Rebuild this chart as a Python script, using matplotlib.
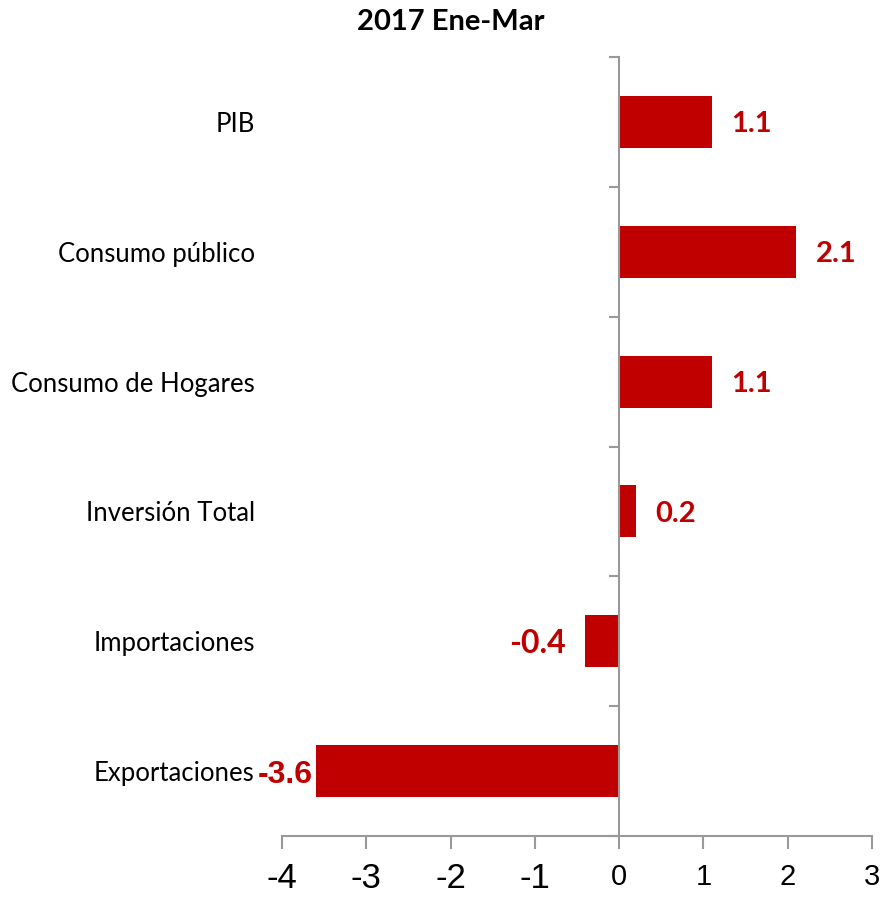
import matplotlib
matplotlib.use("Agg")
import matplotlib.pyplot as plt
from matplotlib.transforms import blended_transform_factory

categories = ["PIB", "Consumo público", "Consumo de Hogares", "Inversión Total",
              "Importaciones", "Exportaciones"]
values = [1.1, 2.1, 1.1, 0.2, -0.4, -3.6]
value_labels = ["1.1", "2.1", "1.1", "0.2", "-0.4", "-3.6"]
xticks = [-4, -3, -2, -1, 0, 1, 2, 3]
title = "2017 Ene-Mar"

RED = "#C00000"
GRAY = "#999999"

fig = plt.figure(figsize=(8.83, 8.99), dpi=100)
ax = fig.add_axes([282/883, 1-836/899, 590/883, 779/899])

ypos = list(range(len(categories)))
ax.barh(ypos, values, height=0.4, color=RED, zorder=2)
ax.set_xlim(-4, 3)
ax.set_ylim(len(categories)-0.5, -0.5)

for s in ["top", "right"]:
    ax.spines[s].set_visible(False)
ax.spines["left"].set_position(("data", 0))
ax.spines["left"].set_color(GRAY)
ax.spines["bottom"].set_color(GRAY)
ax.spines["left"].set_linewidth(1.5)
ax.spines["bottom"].set_linewidth(1.5)

ax.set_yticks([i - 0.5 for i in range(len(categories)+1)])
ax.set_yticklabels([])
ax.tick_params(axis="y", length=7, width=1.5, color=GRAY, direction="out")
ax.set_xticks(xticks)
ax.set_xticklabels([])
ax.tick_params(axis="x", length=9, width=1.5, color=GRAY, direction="out")

# x tick labels drawn manually (negative ones larger, as in the reference)
trx = blended_transform_factory(ax.transData, fig.transFigure)
for t in xticks:
    if t < 0:
        ax.text(t, 1-879/899, str(t), transform=trx, ha="center", va="center",
                fontsize=25, family="Liberation Sans", color="black")
    else:
        ax.text(t, 1-877/899, str(t), transform=trx, ha="center", va="center",
                fontsize=21, family="Liberation Sans", color="black")

tr = blended_transform_factory(ax.transAxes, ax.transData)
for i, c in enumerate(categories):
    ax.text(-0.046, i, c, transform=tr, ha="right", va="center_baseline",
            fontsize=18.5, family="Lato", color="black")

for i, (v, l) in enumerate(zip(values, value_labels)):
    if v >= 0:
        ax.annotate(l, (v, i), xytext=(14, 0), textcoords="offset points",
                    ha="left", va="center_baseline", fontsize=21, fontweight="bold",
                    family="Lato", color=RED)
    elif v > -1:
        ax.annotate(l, (v, i), xytext=(-14, 0), textcoords="offset points",
                    ha="right", va="center_baseline", fontsize=23, fontweight="bold",
                    family="Lato", color=RED)
    else:
        ax.annotate(l, (v, i), xytext=(-2, 0), textcoords="offset points",
                    ha="right", va="center_baseline", fontsize=23, fontweight="bold",
                    family="Liberation Sans", color=RED)

fig.text(451/883, 1-22/899, title, ha="center", va="center",
         fontsize=21, fontweight="bold", family="Lato")

fig.savefig("out.png", dpi=100, facecolor="white")
